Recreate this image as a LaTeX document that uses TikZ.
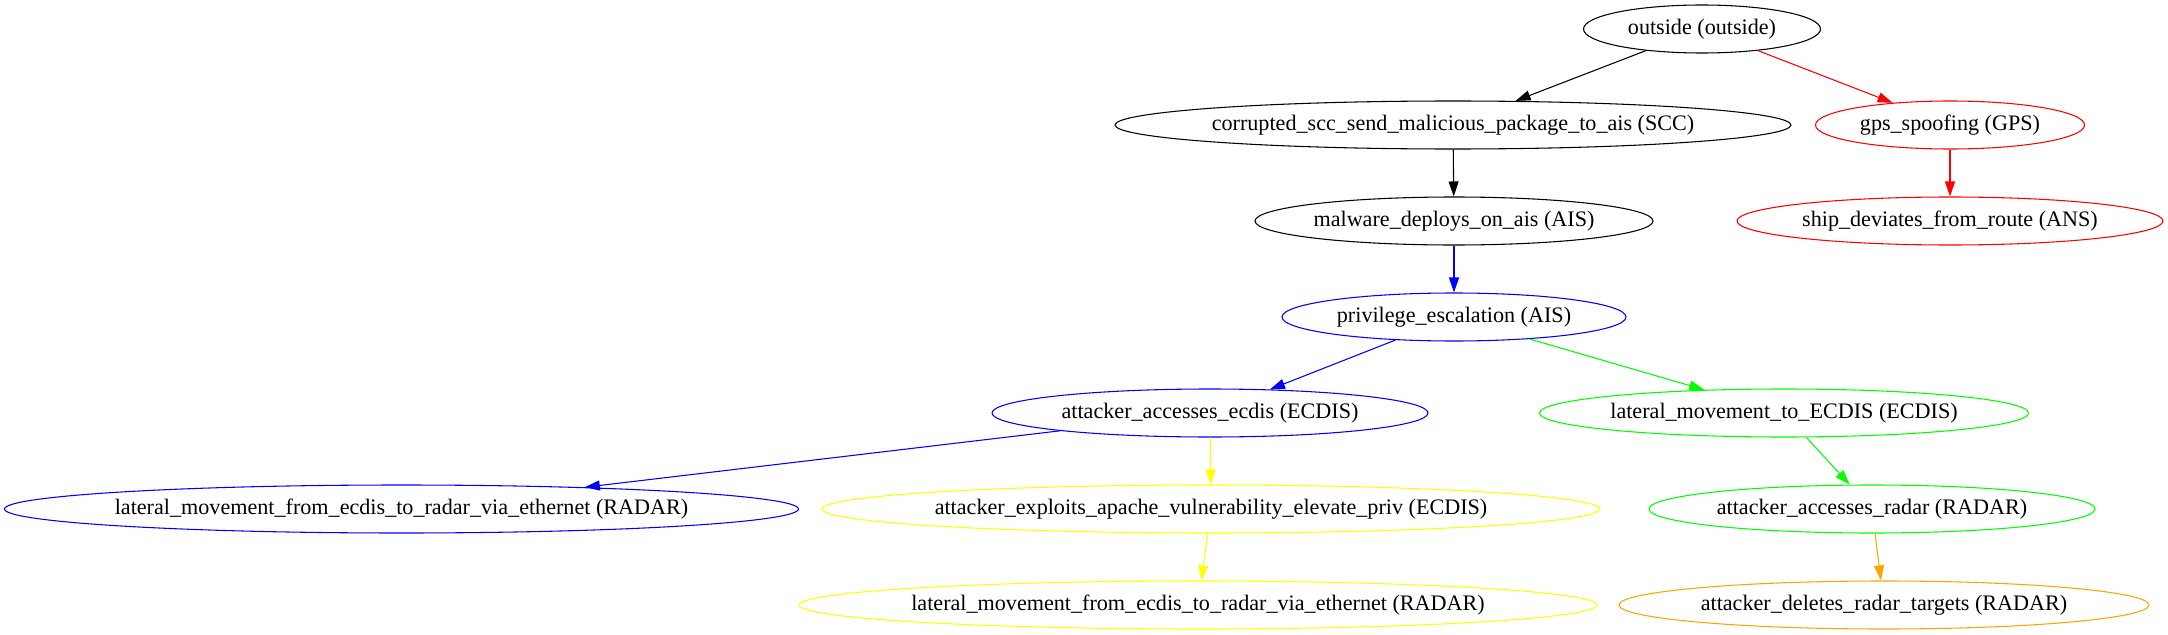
\documentclass[tikz,border=0pt]{standalone}
\usepackage{fontspec}
\setmainfont{Liberation Serif}
\usetikzlibrary{shapes.geometric,arrows.meta}
\definecolor{gvgreen}{RGB}{0,255,0}
\definecolor{gvyellow}{RGB}{255,255,0}
\definecolor{gvorange}{RGB}{255,165,0}
\definecolor{gvblue}{RGB}{0,0,255}
\definecolor{gvred}{RGB}{255,0,0}
\tikzset{
  nd/.style={ellipse, draw, line width=0.8pt, inner sep=0pt, minimum height=36pt},
  lbl/.style={text=black, inner sep=0pt, font=\fontsize{16.6pt}{19pt}\selectfont},
  edge/.style={line width=0.8pt, -{Triangle[length=11.25pt,width=7.5pt]}},
}
\begin{document}
\begin{tikzpicture}[x=0.75pt,y=-0.75pt]
\useasboundingbox (0,0) rectangle (2168,635);
\node[nd, minimum width=177.75pt, label={[lbl]center:outside (outside)}] (outside) at (1702,29) {};
\node[nd, minimum width=507pt, label={[lbl]center:corrupted\_scc\_send\_malicious\_package\_to\_ais (SCC)}] (scc) at (1453,125) {};
\node[nd, gvred, minimum width=201.75pt, label={[lbl]center:gps\_spoofing (GPS)}] (gps) at (1950,125) {};
\node[nd, minimum width=298.5pt, label={[lbl]center:malware\_deploys\_on\_ais (AIS)}] (malware) at (1454,221) {};
\node[nd, gvred, minimum width=319.5pt, label={[lbl]center:ship\_deviates\_from\_route (ANS)}] (ship) at (1950,221) {};
\node[nd, gvblue, minimum width=258pt, label={[lbl]center:privilege\_escalation (AIS)}] (priv) at (1454,317) {};
\node[nd, gvblue, minimum width=327pt, label={[lbl]center:attacker\_accesses\_ecdis (ECDIS)}] (accecdis) at (1210,413) {};
\node[nd, gvgreen, minimum width=366.75pt, label={[lbl]center:lateral\_movement\_to\_ECDIS (ECDIS)}] (latecdis) at (1784,413) {};
\node[nd, gvblue, minimum width=595.5pt, label={[lbl]center:lateral\_movement\_from\_ecdis\_to\_radar\_via\_ethernet (RADAR)}] (latblue) at (401.5,509) {};
\node[nd, gvyellow, minimum width=583.5pt, label={[lbl]center:attacker\_exploits\_apache\_vulnerability\_elevate\_priv (ECDIS)}] (apache) at (1211,509) {};
\node[nd, gvgreen, minimum width=334.5pt, label={[lbl]center:attacker\_accesses\_radar (RADAR)}] (accradar) at (1872,509) {};
\node[nd, gvyellow, minimum width=598.5pt, label={[lbl]center:lateral\_movement\_from\_ecdis\_to\_radar\_via\_ethernet (RADAR)}] (latyellow) at (1198,605) {};
\node[nd, gvorange, minimum width=397.5pt, label={[lbl]center:attacker\_deletes\_radar\_targets (RADAR)}] (deletes) at (1884,605) {};

\draw[edge] (outside) -- (scc);
\draw[edge, gvred] (outside) -- (gps);
\draw[edge] (scc) -- (malware);
\draw[edge, gvred] (gps) -- (ship);
\draw[edge, gvblue] (malware) -- (priv);
\draw[edge, gvblue] (priv) -- (accecdis);
\draw[edge, gvgreen] (priv) -- (latecdis);
\draw[edge, gvblue] (accecdis) -- (latblue);
\draw[edge, gvyellow] (accecdis) -- (apache);
\draw[edge, gvgreen] (latecdis) -- (accradar);
\draw[edge, gvyellow] (apache) -- (latyellow);
\draw[edge, gvorange] (accradar) -- (deletes);
\end{tikzpicture}
\end{document}
